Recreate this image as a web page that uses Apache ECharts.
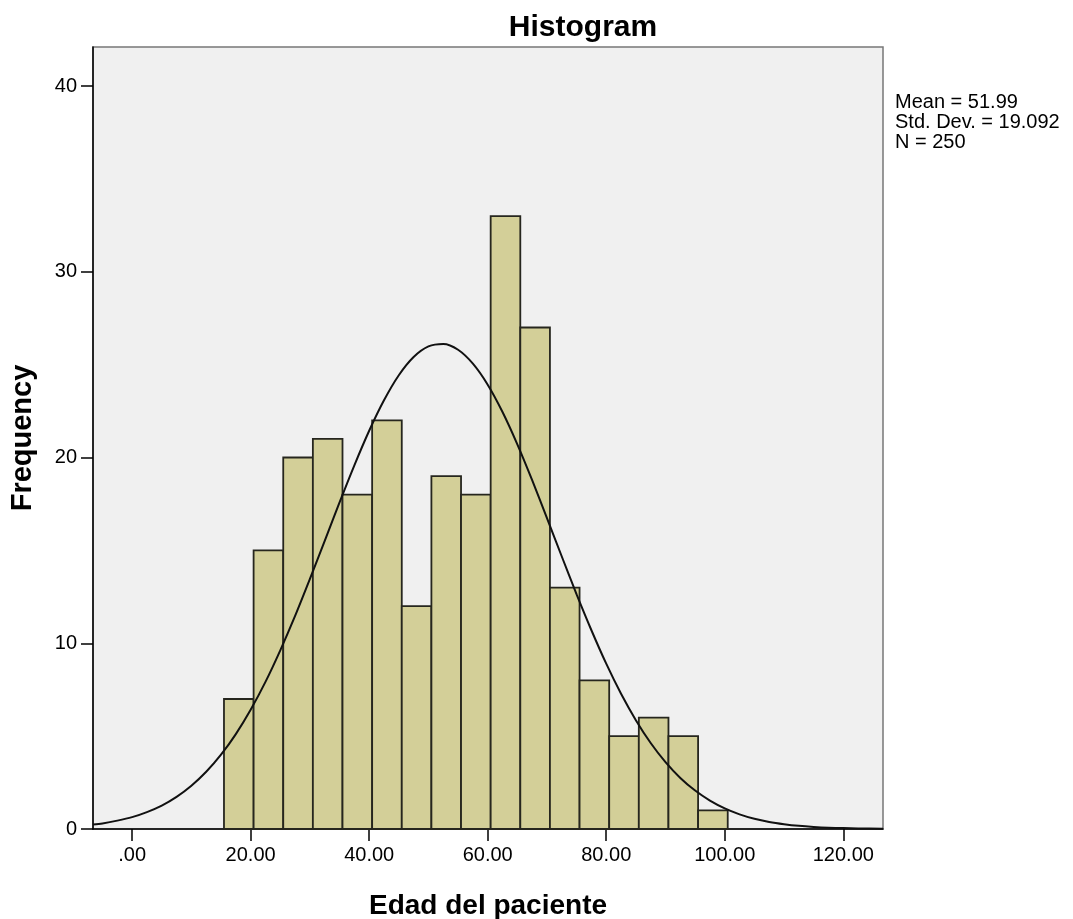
<!DOCTYPE html>
<html>
<head>
<meta charset="utf-8">
<script src="https://cdn.jsdelivr.net/npm/echarts@6/dist/echarts.min.js"></script>
<style>
html,body{margin:0;padding:0;background:#fff;}
#chart{width:1073px;height:919px;}
</style>
</head>
<body>
<div id="chart"></div>
<script>
// Histogram bins (Edad del paciente)
var binStarts = [15.5, 20.5, 25.5, 30.5, 35.5, 40.5, 45.5, 50.5, 55.5, 60.5, 65.5, 70.5, 75.5, 80.5, 85.5, 90.5, 95.5];
var binEnds   = [20.5, 25.5, 30.5, 35.5, 40.5, 45.5, 50.5, 55.5, 60.5, 65.5, 70.5, 75.5, 80.5, 85.5, 90.5, 95.5, 100.5];
var counts    = [7, 15, 20, 21, 18, 22, 12, 19, 18, 33, 27, 13, 8, 5, 6, 5, 1];

// Normal curve
var curveX = [-6.6, -5, -2.5, 0, 2.5, 5, 7.5, 10, 12.5, 15, 17.5, 20, 22.5, 25, 27.5, 30, 32.5, 35, 37.5, 40, 42.5, 45, 47.5, 50, 52.5, 55, 57.5, 60, 62.5, 65, 67.5, 70, 72.5, 75, 77.5, 80, 82.5, 85, 87.5, 90, 92.5, 95, 97.5, 100, 102.5, 105, 107.5, 110, 112.5, 115, 117.5, 120, 122.5, 126.7];
var curveY = [0.24, 0.30, 0.45, 0.64, 0.91, 1.26, 1.73, 2.33, 3.08, 4.00, 5.11, 6.42, 7.92, 9.62, 11.47, 13.46, 15.51, 17.58, 19.58, 21.44, 23.08, 24.43, 25.41, 25.98, 26.11, 25.80, 25.05, 23.92, 22.45, 20.71, 18.78, 16.74, 14.67, 12.63, 10.70, 8.90, 7.28, 5.86, 4.63, 3.60, 2.75, 2.07, 1.53, 1.11, 0.79, 0.55, 0.38, 0.26, 0.17, 0.11, 0.07, 0.05, 0.03, 0.01];

var xTicks = [0, 20, 40, 60, 80, 100, 120];
var yTicks = [0, 10, 20, 30, 40];

var statLines = ['Mean = 51.99', 'Std. Dev. = 19.092', 'N = 250'];

var chart = echarts.init(document.getElementById('chart'), null, {renderer: 'canvas'});

var barData = binStarts.map(function (s, i) { return [s, binEnds[i], counts[i]]; });
var lineData = curveX.map(function (x, i) { return [x, curveY[i]]; });

var font = '"Liberation Sans", Arial, sans-serif';

chart.setOption({
  animation: false,
  backgroundColor: '#ffffff',
  title: {
    text: 'Histogram',
    left: 578,
    top: 8,
    textAlign: 'center',
    textStyle: {fontFamily: font, fontSize: 30, fontWeight: 'bold', color: '#000'}
  },
  graphic: [{
    type: 'text',
    left: 895,
    top: 92,
    style: {
      text: statLines.join('\n'),
      fontFamily: font,
      fontSize: 20,
      lineHeight: 20,
      fill: '#000'
    }
  }],
  grid: {
    left: 93,
    right: 190,
    top: 47,
    bottom: 90,
    outerBoundsMode: 'none',
    containLabel: false,
    show: true,
    backgroundColor: '#f0f0f0',
    borderColor: '#777',
    borderWidth: 1.5
  },
  xAxis: {
    type: 'value',
    min: -6.6,
    max: 126.7,
    name: 'Edad del paciente',
    nameLocation: 'middle',
    nameGap: 63,
    nameTextStyle: {fontFamily: font, fontSize: 28, fontWeight: 'bold', color: '#000'},
    axisLine: {show: true, onZero: false, lineStyle: {color: '#000', width: 1.5}},
    axisTick: {show: true, customValues: xTicks, length: 12, lineStyle: {color: '#000', width: 1.5}},
    axisLabel: {
      customValues: xTicks,
      margin: 16,
      fontFamily: font, fontSize: 20, color: '#000',
      formatter: function (v) { return v === 0 ? '.00' : v.toFixed(2); }
    },
    splitLine: {show: false}
  },
  yAxis: {
    type: 'value',
    min: 0,
    max: 42.1,
    name: 'Frequency',
    nameLocation: 'middle',
    nameGap: 56,
    nameRotate: 90,
    nameTextStyle: {fontFamily: font, fontSize: 29, fontWeight: 'bold', color: '#000'},
    axisLine: {show: true, onZero: false, lineStyle: {color: '#000', width: 1.5}},
    axisTick: {show: true, customValues: yTicks, length: 12, lineStyle: {color: '#000', width: 1.5}},
    axisLabel: {
      customValues: yTicks,
      margin: 16,
      fontFamily: font, fontSize: 20, color: '#000'
    },
    splitLine: {show: false}
  },
  series: [{
    type: 'custom',
    data: barData,
    encode: {x: [0, 1], y: 2},
    renderItem: function (params, api) {
      var p0 = api.coord([api.value(0), 0]);
      var p1 = api.coord([api.value(1), api.value(2)]);
      return {
        type: 'rect',
        shape: {x: p0[0], y: p1[1], width: p1[0] - p0[0], height: p0[1] - p1[1]},
        style: {fill: '#d3cf98', stroke: '#26261e', lineWidth: 1.8}
      };
    },
    z: 2
  }, {
    type: 'line',
    data: lineData,
    smooth: 0.3,
    showSymbol: false,
    symbol: 'none',
    lineStyle: {color: '#111', width: 2},
    z: 3
  }]
});
</script>
</body>
</html>
